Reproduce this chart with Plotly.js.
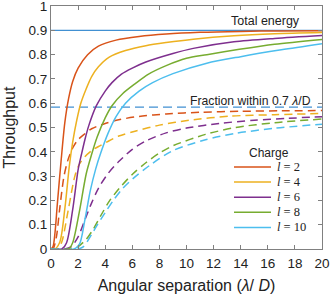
<!DOCTYPE html>
<html><head><meta charset="utf-8">
<script src="https://cdn.plot.ly/plotly-3.0.1.min.js"></script>
<style>html,body{margin:0;padding:0;background:#fff}#c{width:332px;height:300px}</style>
</head><body><div id="c"></div>
<script>
// Charges
const charges = [2, 4, 6, 8, 10];
const colors = ['#D95319', '#EDB120', '#7E2F8E', '#77AC30', '#4DBEEE'];
const legendTitle = 'Charge';

// Total energy throughput (solid)
const x_l2 = [0, 0.15, 0.3, 0.46, 0.74, 1.02, 1.3, 1.6, 2.0, 2.7, 3.5, 4.8, 6.5, 8.5, 11, 14, 17, 20];
const y_l2 = [0, 0.01, 0.07, 0.18, 0.36, 0.52, 0.62, 0.69, 0.745, 0.80, 0.835, 0.86, 0.875, 0.885, 0.892, 0.896, 0.898, 0.899];
const x_l4 = [0, 0.3, 0.66, 1.03, 1.35, 1.6, 1.9, 2.2, 2.6, 3.0, 3.5, 4.3, 5.5, 7, 8.5, 10.5, 13.5, 16.5, 20];
const y_l4 = [0, 0, 0.03, 0.17, 0.34, 0.44, 0.53, 0.6, 0.66, 0.71, 0.75, 0.79, 0.817, 0.837, 0.85, 0.864, 0.878, 0.886, 0.891];
const x_l6 = [0, 0.8, 1.15, 1.6, 2.0, 2.25, 2.5, 2.8, 3.35, 4.0, 4.5, 5.2, 6.0, 7.0, 9.0, 10.5, 13.5, 16.5, 20];
const y_l6 = [0, 0, 0.026, 0.162, 0.326, 0.39, 0.45, 0.51, 0.59, 0.65, 0.685, 0.72, 0.745, 0.77, 0.805, 0.826, 0.853, 0.867, 0.879];
const x_l8 = [0, 1.3, 1.6, 2.08, 2.6, 3.0, 3.4, 4.0, 4.5, 5.3, 6.2, 7.2, 8.5, 10, 11.5, 13.9, 16.5, 20];
const y_l8 = [0, 0, 0.026, 0.15, 0.31, 0.39, 0.46, 0.54, 0.59, 0.64, 0.68, 0.72, 0.755, 0.785, 0.80, 0.822, 0.843, 0.863];
const x_l10 = [0, 1.7, 2.1, 2.5, 2.9, 3.3, 3.7, 4.2, 4.8, 5.5, 6.5, 7.5, 9, 11.5, 14, 17, 20];
const y_l10 = [0, 0, 0.02, 0.12, 0.24, 0.33, 0.40, 0.475, 0.545, 0.6, 0.65, 0.685, 0.722, 0.765, 0.792, 0.82, 0.845];

// Fraction within 0.7 lambda/D (dashed)
const xf_l2 = [0, 0.15, 0.4, 0.63, 0.96, 1.27, 1.64, 2.0, 2.4, 3.0, 4.0, 5.0, 6.5, 8.5, 11, 14, 17, 20];
const yf_l2 = [0, 0, 0.05, 0.16, 0.30, 0.37, 0.42, 0.45, 0.47, 0.495, 0.517, 0.532, 0.546, 0.556, 0.563, 0.567, 0.569, 0.57];
const xf_l4 = [0, 0.5, 0.8, 1.27, 1.76, 2.1, 2.5, 3.0, 3.6, 4.1, 5.0, 6.2, 8, 10.2, 13.2, 16.5, 20];
const yf_l4 = [0, 0, 0.03, 0.16, 0.30, 0.35, 0.38, 0.405, 0.425, 0.44, 0.465, 0.485, 0.51, 0.53, 0.547, 0.553, 0.558];
const xf_l6 = [0, 1.0, 1.5, 2.0, 2.5, 3.0, 3.5, 4.2, 5.0, 6.0, 7.0, 8.5, 10, 12.4, 15, 17.5, 20];
const yf_l6 = [0, 0, 0.01, 0.05, 0.12, 0.19, 0.25, 0.31, 0.36, 0.41, 0.445, 0.478, 0.498, 0.517, 0.53, 0.538, 0.545];
const xf_l8 = [0, 1.5, 2.0, 2.6, 3.1, 3.7, 4.34, 5.2, 6.05, 7.0, 8.0, 9.0, 11.4, 13.6, 16.5, 20];
const yf_l8 = [0, 0, 0.01, 0.04, 0.08, 0.14, 0.20, 0.26, 0.31, 0.355, 0.395, 0.425, 0.472, 0.50, 0.52, 0.535];
const xf_l10 = [0, 2.0, 2.4, 3.0, 3.35, 4.0, 4.6, 5.3, 6.05, 7.3, 9, 11.4, 13.6, 16.5, 20];
const yf_l10 = [0, 0, 0.01, 0.06, 0.093, 0.15, 0.20, 0.25, 0.29, 0.345, 0.405, 0.45, 0.476, 0.497, 0.514];

// Reference levels
const totalEnergy = 0.9;
const fraction07 = 0.584;
const xRange = [0, 20];

const solidX = [x_l2, x_l4, x_l6, x_l8, x_l10];
const solidY = [y_l2, y_l4, y_l6, y_l8, y_l10];
const dashX = [xf_l2, xf_l4, xf_l6, xf_l8, xf_l10];
const dashY = [yf_l2, yf_l4, yf_l6, yf_l8, yf_l10];

const refBlue = '#4190d2';
const traces = [];
traces.push({x: xRange, y: [totalEnergy, totalEnergy], mode: 'lines', line: {color: refBlue, width: 1.2}, showlegend: false, hoverinfo: 'skip'});
traces.push({x: xRange, y: [fraction07, fraction07], mode: 'lines', line: {color: refBlue, width: 1.2, dash: '9px,5px'}, showlegend: false, hoverinfo: 'skip'});
for (let i = 0; i < charges.length; i++) {
  traces.push({x: dashX[i], y: dashY[i], mode: 'lines', line: {color: colors[i], width: 1.5, dash: '8px,5px', shape: 'spline', smoothing: 0.8}, showlegend: false, hoverinfo: 'skip'});
}
for (let i = 0; i < charges.length; i++) {
  traces.push({x: solidX[i], y: solidY[i], mode: 'lines', name: 'l = ' + charges[i], showlegend: false, line: {color: colors[i], width: 1.5, shape: 'spline', smoothing: 0.8}});
}

const sans = 'Liberation Sans, Arial, sans-serif';
const serif = 'Liberation Serif, Times New Roman, serif';
const axisCommon = {showgrid: false, zeroline: false, showline: true, linecolor: '#808080', linewidth: 1, mirror: 'ticks', ticks: 'inside', ticklen: 4, tickcolor: '#808080', ticklabeloverflow: 'allow', tickfont: {family: sans, size: 13.5, color: '#222'}};

// Hand-built legend (layout styling)
const H = 243, W = 271, plotTop = 6;
const toPY = py => (plotTop + H - py) / H;
const toPX = px => (px - 51) / W;
const shapes = [];
const annotations = [
  {x: 18.5, y: 0.938, xref: 'x', yref: 'y', text: 'Total energy', showarrow: false, xanchor: 'right', yanchor: 'middle', font: {family: sans, size: 12.5, color: '#222'}},
  {x: 19.35, y: 0.61, xref: 'x', yref: 'y', text: 'Fraction within 0.7 <i>λ</i>/D', showarrow: false, xanchor: 'right', yanchor: 'middle', font: {family: sans, size: 12.2, color: '#222'}},
  {x: toPX(269), y: toPY(153), xref: 'paper', yref: 'paper', text: legendTitle, showarrow: false, xanchor: 'center', yanchor: 'middle', font: {family: sans, size: 12, color: '#222'}}
];
for (let i = 0; i < charges.length; i++) {
  const py = 167 + 15.1 * i;
  shapes.push({type: 'line', xref: 'paper', yref: 'paper', x0: toPX(234), x1: toPX(271), y0: toPY(py), y1: toPY(py), line: {color: colors[i], width: 1.5}});
  annotations.push({x: toPX(275), y: toPY(py), xref: 'paper', yref: 'paper', text: '<i>l</i> = ' + charges[i], showarrow: false, xanchor: 'left', yanchor: 'middle', font: {family: serif, size: 12.5, color: '#222'}});
}

const layout = {
  width: 332, height: 300,
  margin: {l: 51, r: 10, t: plotTop, b: 51},
  paper_bgcolor: '#fff', plot_bgcolor: '#fff',
  xaxis: Object.assign({}, axisCommon, {range: xRange, dtick: 2, ticklabelstandoff: 2, title: {text: 'Angular separation (<i>λ</i>/ <i>D</i>)', font: {family: sans, size: 16, color: '#222'}, standoff: 9}}),
  yaxis: Object.assign({}, axisCommon, {range: [0, 1.0005], dtick: 0.1, title: {text: 'Throughput', font: {family: sans, size: 16, color: '#222'}, standoff: 8}}),
  shapes: shapes,
  annotations: annotations,
  showlegend: false
};
Plotly.newPlot('c', traces, layout, {staticPlot: true, displayModeBar: false});
</script></body></html>
